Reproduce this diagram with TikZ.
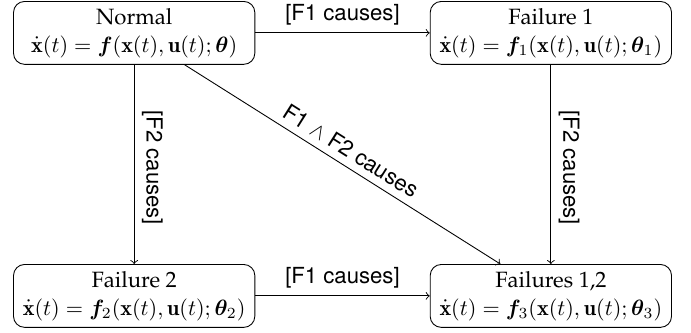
\documentclass[tikz,border=0pt]{standalone}
\usepackage{amsmath,bm}
\usepackage{fontspec}
\newfontfamily\lblfont{TeX Gyre Heros}
\usetikzlibrary{positioning}
\newcommand{\titlefont}{\fontencoding{OT1}\fontfamily{ppl}\selectfont}
\tikzset{
  >=to,
  mode/.style={draw,rounded corners=5pt,minimum width=109pt,minimum height=28.4pt,align=center,inner xsep=0.5pt,inner ysep=1pt},
  trans/.style={->},
  lbl/.style={font=\lblfont},
}
\begin{document}
\begin{tikzpicture}[node distance=90pt and 78.8pt]

% operating modes
\node[mode] (normal) {{\titlefont Normal}\\[0.5pt] $\dot{\mathbf{x}}(t)=\bm{f}(\mathbf{x}(t),\mathbf{u}(t);\bm{\theta})$};
\node[mode,right=of normal] (fail1) {{\titlefont Failure 1}\\[0.5pt] $\dot{\mathbf{x}}(t)=\bm{f}_1(\mathbf{x}(t),\mathbf{u}(t);\bm{\theta}_1)$};
\node[mode,below=of normal] (fail2) {{\titlefont Failure 2}\\[0.5pt] $\dot{\mathbf{x}}(t)=\bm{f}_2(\mathbf{x}(t),\mathbf{u}(t);\bm{\theta}_2)$};
\node[mode,below=of fail1] (fail12) {{\titlefont Failures 1,2}\\[0.5pt] $\dot{\mathbf{x}}(t)=\bm{f}_3(\mathbf{x}(t),\mathbf{u}(t);\bm{\theta}_3)$};

% transitions
\draw[trans] (normal) -- node[lbl,above]{[F1 causes]} (fail1);
\draw[trans] (fail2) -- node[lbl,above]{[F1 causes]} (fail12);
\draw[trans] (normal) -- node[lbl,above=-1.5pt,rotate=-90]{[F2 causes]} (fail2);
\draw[trans] (fail1) -- node[lbl,above=-1.5pt,rotate=-90]{[F2 causes]} (fail12);
\draw[trans] (normal) -- node[lbl,above,sloped]{F1 $\wedge$ F2 causes} (fail12);

\pgfresetboundingbox
\useasboundingbox ([shift={(-5.9pt,0.45pt)}]normal.north west) rectangle ([shift={(8.6pt,-2.25pt)}]fail12.south east);
\end{tikzpicture}
\end{document}
